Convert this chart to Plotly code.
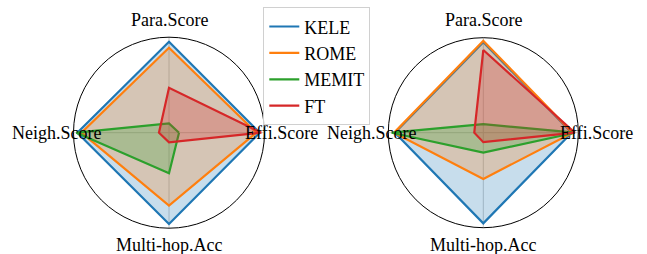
import plotly.graph_objects as go

categories = ["Effi.Score", "Para.Score", "Neigh.Score", "Multi-hop.Acc"]
methods = ["KELE", "ROME", "MEMIT", "FT"]
colors = ["#1f77b4", "#ff7f0e", "#2ca02c", "#d62728"]
fills = ["rgba(31,119,180,0.25)", "rgba(255,127,14,0.25)", "rgba(44,160,44,0.25)", "rgba(214,39,40,0.25)"]

# left chart values (Effi, Para, Neigh, Multi-hop)
left_kele = [0.95, 0.953, 0.96, 0.956]
left_rome = [0.915, 0.89, 0.917, 0.764]
left_memit = [0.105, 0.098, 0.97, 0.425]
left_ft = [0.967, 0.47, 0.105, 0.10]

# right chart values
right_kele = [0.93, 0.953, 0.93, 0.954]
right_rome = [0.94, 0.968, 0.94, 0.487]
right_memit = [0.965, 0.09, 0.965, 0.21]
right_ft = [0.965, 0.87, 0.095, 0.10]

left_vals = [left_kele, left_rome, left_memit, left_ft]
right_vals = [right_kele, right_rome, right_memit, right_ft]

fig = go.Figure()
theta = categories + [categories[0]]
for i, m in enumerate(methods):
    for vals, pol, show in [(left_vals[i], "polar", True), (right_vals[i], "polar2", False)]:
        fig.add_trace(go.Scatterpolar(
            r=vals + [vals[0]], theta=theta, mode="lines", fill="toself",
            fillcolor=fills[i], line=dict(color="rgba(0,0,0,0)", width=0),
            name=m, subplot=pol, showlegend=False, hoverinfo="skip",
        ))
        fig.add_trace(go.Scatterpolar(
            r=vals + [vals[0]], theta=theta, mode="lines",
            line=dict(color=colors[i], width=2.2),
            name=m, subplot=pol, showlegend=show,
        ))

polar_style = dict(
    bgcolor="white",
    radialaxis=dict(range=[0, 1], showgrid=False, showticklabels=False, showline=False, ticks=""),
    angularaxis=dict(direction="counterclockwise", rotation=0, showgrid=True,
                     gridcolor="#c8c8c8", gridwidth=1, linecolor="black", linewidth=1,
                     showticklabels=False, ticks="", categoryorder="array", categoryarray=categories),
)

W, H = 647, 254
fig.update_layout(
    width=W, height=H,
    margin=dict(l=0, r=0, t=0, b=0),
    paper_bgcolor="white",
    font=dict(family="Liberation Serif", size=18, color="black"),
    polar=dict(domain=dict(x=[73.5 / W, 264.5 / W], y=[(H - 228.2) / H, (H - 37.2) / H]), **polar_style),
    polar2=dict(domain=dict(x=[388.3 / W, 578.3 / W], y=[(H - 228.2) / H, (H - 37.2) / H]), **polar_style),
    legend=dict(x=263.3 / W, y=1 - 7.3 / H, xanchor="left", yanchor="top",
                bordercolor="#d0d0d0", borderwidth=1, bgcolor="rgba(255,255,255,0.8)",
                tracegroupgap=0, font=dict(size=18, family="Liberation Serif")),
)

label_pos = [
    ("Para.Score", 169, 20), ("Neigh.Score", 56.4, 132.7), ("Effi.Score", 281, 132.7), ("Multi-hop.Acc", 169, 245),
    ("Para.Score", 483.3, 20), ("Neigh.Score", 371, 132.7), ("Effi.Score", 596.7, 132.7), ("Multi-hop.Acc", 483.3, 245),
]
for txt, x, y in label_pos:
    fig.add_annotation(text=txt, x=x / W, y=1 - y / H, xref="paper", yref="paper",
                       xanchor="center", yanchor="middle", showarrow=False,
                       font=dict(size=18, family="Liberation Serif", color="black"))

fig.write_html("out.html", config={"displayModeBar": False},
               post_script="document.body.style.margin='0';document.body.style.overflow='hidden';")
